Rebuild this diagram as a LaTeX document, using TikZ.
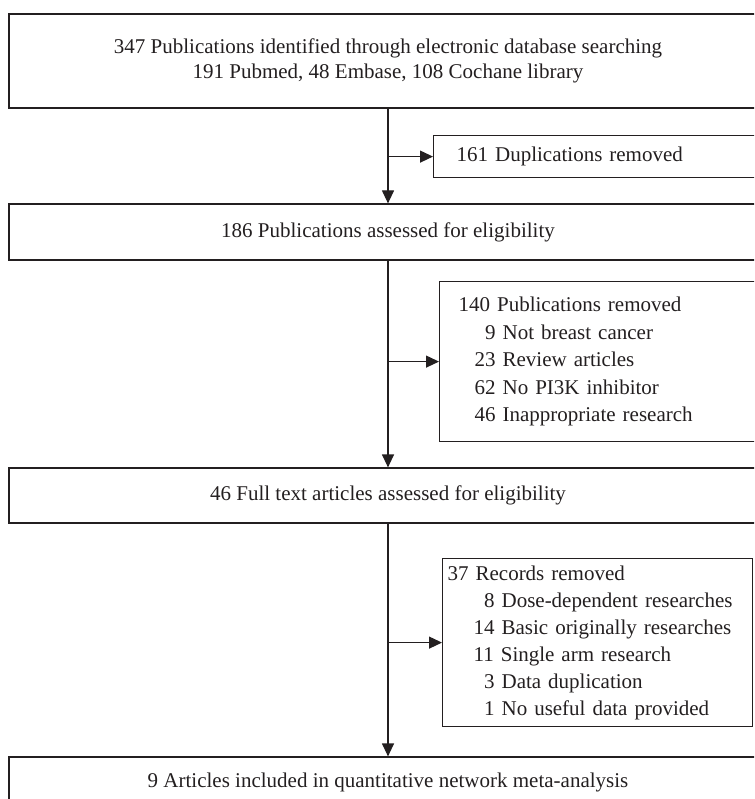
\documentclass[tikz,border=0pt]{standalone}
\usepackage{fontspec}
\setmainfont{Liberation Serif}
\usetikzlibrary{arrows.meta}
\definecolor{ink}{HTML}{231F20}
\begin{document}
\begin{tikzpicture}[x=1pt,y=-1pt,
  every node/.style={text=ink},
  mainbox/.style={draw=ink, line width=1.2pt, minimum width=758pt, inner sep=0pt, align=center,
    font=\fontsize{21}{25}\selectfont},
  sidebox/.style={draw=ink, line width=1.2pt, anchor=north west, inner ysep=0pt, text width=300pt,
    align=left},
  arr/.style={draw=ink, line width=1.2pt, -{Triangle[length=13pt,width=12pt]}}]
\useasboundingbox (0,0) rectangle (754,799);
\clip (0,0) rectangle (754,799);

\node[mainbox, minimum height=94pt] (b1) at (388,61)
  {347 Publications identified through electronic database searching\\
   191 Pubmed, 48 Embase, 108 Cochane library};
\node[mainbox, minimum height=56pt] (b2) at (388,232) {186 Publications assessed for eligibility};
\node[mainbox, minimum height=55pt] (b3) at (388,495.5) {46 Full text articles assessed for eligibility};
\node[mainbox, minimum height=50pt] (b4) at (388,782) {9 Articles included in quantitative network meta-analysis};

\node[sidebox, minimum height=42pt, inner xsep=23pt, font=\fontsize{21}{25}\selectfont] (dup) at (433,135)
  {161 Duplications removed};
\node[sidebox, minimum height=160pt, inner xsep=19pt, font=\fontsize{21}{27.5}\selectfont] (r1) at (439,281)
  {140 Publications removed\\
   \hspace*{26.5pt}9 Not breast cancer\\
   \hspace*{16pt}23 Review articles\\
   \hspace*{16pt}62 No PI3K inhibitor\\
   \hspace*{16pt}46 Inappropriate research};
\node[sidebox, minimum height=168pt, inner xsep=5pt, font=\fontsize{21}{27}\selectfont] (r2) at (442,558)
  {37 Records removed\\
   \hspace*{36.5pt}8 Dose-dependent researches\\
   \hspace*{26pt}14 Basic originally researches\\
   \hspace*{26pt}11 Single arm research\\
   \hspace*{36.5pt}3 Data duplication\\
   \hspace*{36.5pt}1 No useful data provided};

\draw[arr] (b1.south) -- (b2.north);
\draw[arr] (b1.south |- dup.west) -- (dup.west);
\draw[arr] (b2.south) -- (b3.north);
\draw[arr] (b2.south |- r1.west) -- (r1.west);
\draw[arr] (b3.south) -- (b4.north);
\draw[arr] (b3.south |- r2.west) -- (r2.west);
\end{tikzpicture}
\end{document}
